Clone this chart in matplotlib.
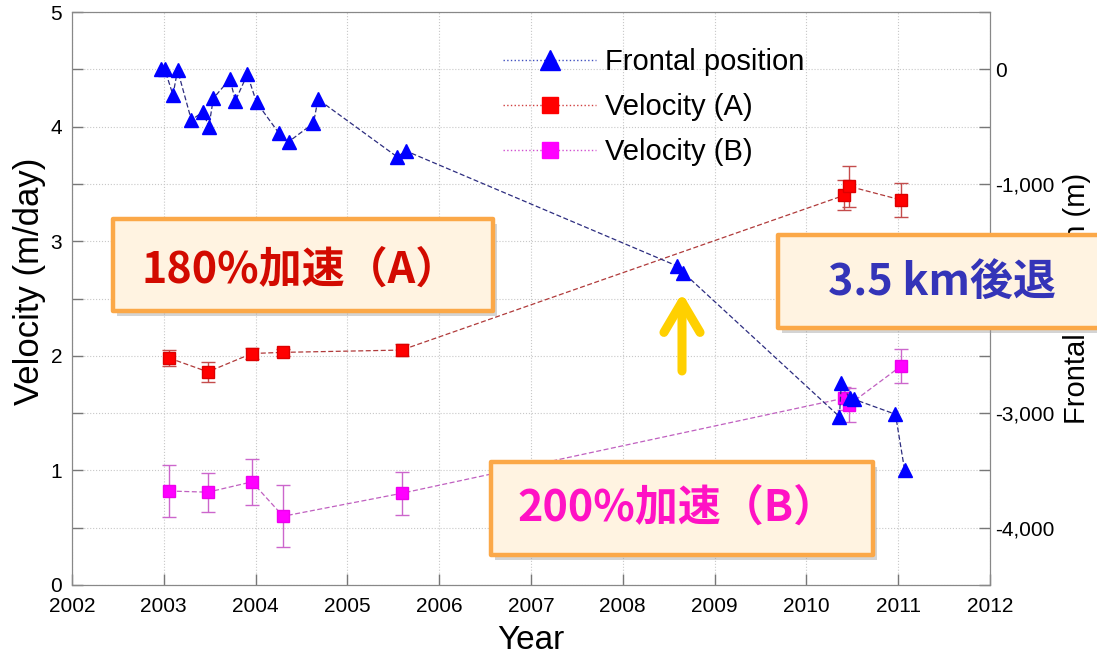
import matplotlib
matplotlib.use('Agg')
import matplotlib.pyplot as plt
from matplotlib.ticker import MultipleLocator, FuncFormatter
from matplotlib.patches import Rectangle
from matplotlib.transforms import Affine2D
from matplotlib.lines import Line2D
from matplotlib.patches import ArrowStyle

plt.rcParams['font.family'] = ['Liberation Sans', 'DejaVu Sans']

# --- data ---
front_year = [2002.97, 2003.01, 2003.10, 2003.15, 2003.30, 2003.43, 2003.49, 2003.54,
              2003.72, 2003.78, 2003.91, 2004.01, 2004.25, 2004.36, 2004.63, 2004.68,
              2005.54, 2005.64, 2008.59, 2008.66, 2010.36, 2010.38, 2010.47, 2010.52,
              2010.97, 2011.07]
front_pos = [5, 0, -224, -6, -442, -370, -506, -253,
             -85, -274, -44, -288, -553, -632, -471, -262,
             -763, -713, -1716, -1775, -3031, -2740, -2871, -2880,
             -3010, -3497]

vel_year = [2003.06, 2003.48, 2003.96, 2004.30, 2005.59, 2010.41, 2010.46, 2011.03]
vel_a = [1.98, 1.86, 2.02, 2.03, 2.05, 3.40, 3.48, 3.36]
err_a = [0.07, 0.09, 0.05, 0.03, 0.05, 0.13, 0.18, 0.15]
vel_b = [0.82, 0.81, 0.90, 0.60, 0.80, 1.63, 1.57, 1.91]
err_b = [0.23, 0.17, 0.20, 0.27, 0.19, 0.10, 0.15, 0.15]

labels = ['Frontal position', 'Velocity (A)', 'Velocity (B)']
notes = ['180%加速（A）', '3.5 km後退', '200%加速（B）']

W, H = 1097, 657
fig = plt.figure(figsize=(W / 100, H / 100), dpi=100)
ax = fig.add_axes([72 / W, 1 - 585 / H, 918 / W, 573 / H])
ax2 = ax.twinx()

# pixel transform (origin top-left) for the overlay boxes
pix = Affine2D().scale(1 / W, -1 / H).translate(0, 1) + fig.transFigure

dash = (0, (4, 2))
ax2.plot(front_year, front_pos, ls=dash, lw=0.9, color='#2d2d80', marker='^', ms=10.5,
         mfc='#0000ff', mec='#0000ff', zorder=3)
ax.errorbar(vel_year, vel_a, yerr=err_a, fmt='s', ls=dash, lw=0.9, color='#b03a3a', ms=8.5,
            mfc='#ff0000', mec='#dd0000', ecolor='#c44c4c', elinewidth=1, capsize=5, zorder=3)
ax.errorbar(vel_year, vel_b, yerr=err_b, fmt='s', ls=dash, lw=0.9, color='#c060c0', ms=8.5,
            mfc='#ff00ff', mec='#ee00ee', ecolor='#cc66cc', elinewidth=1, capsize=5, zorder=3)

ax.set_xlim(2002, 2012)
ax.set_ylim(0, 5)
ax2.set_ylim(-4500, 500)

ax.xaxis.set_major_locator(MultipleLocator(1))
ax.yaxis.set_major_locator(MultipleLocator(0.5))
ax.yaxis.set_major_formatter(FuncFormatter(lambda v, p: f"{v:.0f}" if abs(v - round(v)) < 1e-6 else ""))
ax2.yaxis.set_major_locator(MultipleLocator(500))
ax2.yaxis.set_major_formatter(FuncFormatter(lambda v, p: f"{int(v):,}" if int(v) % 1000 == 0 else ""))

for a in (ax, ax2):
    a.tick_params(direction='in', length=8, color='#777777', labelsize=15, width=1)
    for s in a.spines.values():
        s.set_color('#888888')
ax.tick_params(axis='y', pad=7)
ax2.tick_params(axis='y', pad=4)
ax.tick_params(axis='x', pad=9)
ax.grid(True, ls=':', color='#c8c8c8', lw=0.8)
ax.set_axisbelow(True)

ax.set_xlabel('Year', fontsize=24, labelpad=6)
ax.set_ylabel('Velocity (m/day)', fontsize=25)
ax.yaxis.set_label_coords(-0.028, 0.53)
ax2.set_ylabel('Frontal position (m)', fontsize=21, labelpad=6)

handles = [
    Line2D([], [], ls=':', lw=1, color='#4050c0', marker='^', ms=15, mfc='#0000ff', mec='#0000ff'),
    Line2D([], [], ls=':', lw=1, color='#d04040', marker='s', ms=12, mfc='#ff0000', mec='#ff0000'),
    Line2D([], [], ls=':', lw=1, color='#d050d0', marker='s', ms=12, mfc='#ff00ff', mec='#ff00ff'),
]
fig.legend(handles, labels, loc='upper left', bbox_to_anchor=(503 / W, 1 - 48 / H),
           frameon=False, fontsize=21, handlelength=3.2, handletextpad=0.3,
           labelspacing=0.58, borderpad=0, borderaxespad=0)

# --- annotation boxes ---
boxes = [(113, 219, 380, 92), (778, 235, 340, 93), (491, 462, 382, 93)]
centers = [(300, 270), (942, 283), (677, 508)]
colors = ['#d20a00', '#3434b8', '#ff12c4']
for (x0, y0, w, h), (cx, cy), note, c in zip(boxes, centers, notes, colors):
    fig.patches.append(Rectangle((x0 + 4, y0 + 5), w, h, transform=pix, facecolor='#a0a0a0',
                                 edgecolor='none', alpha=0.45, zorder=4))
    fig.patches.append(Rectangle((x0, y0), w, h, transform=pix, facecolor='#fff3e1',
                                 edgecolor='#fba848', lw=3.2, joinstyle='round', zorder=5))
    fig.text(cx, cy, note, transform=pix, ha='center', va='center', fontsize=31,
             fontweight='bold', color=c, family=['Noto Sans CJK JP', 'DejaVu Sans'], zorder=6)

ax.annotate('', xy=(682 / W, 1 - 293 / H), xycoords='figure fraction',
            xytext=(682 / W, 1 - 371 / H), textcoords='figure fraction',
            arrowprops=dict(arrowstyle=ArrowStyle('->', head_length=2.2, head_width=1.3),
                            color='#ffd000', lw=6.5, capstyle='round', joinstyle='round',
                            shrinkA=0, shrinkB=0, mutation_scale=10), zorder=6)

fig.savefig('out.png', dpi=100)
